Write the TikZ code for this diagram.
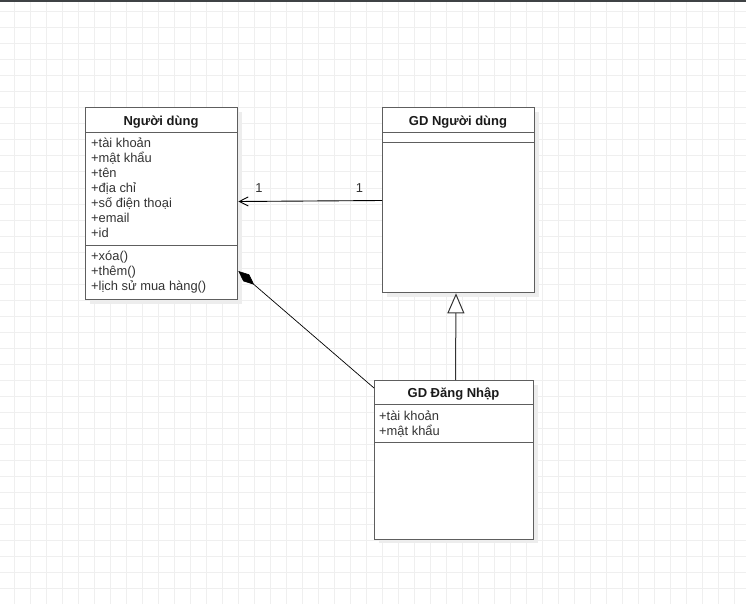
\documentclass[tikz,border=0pt]{standalone}
\usepackage{fontspec}
\setmainfont{Liberation Sans}
\usetikzlibrary{arrows.meta,calc,shadows}
\definecolor{gridc}{HTML}{EFEFEF}
\definecolor{shadowc}{HTML}{EDEDED}
\definecolor{boxc}{HTML}{5E5E5E}
\definecolor{textc}{HTML}{333333}
\definecolor{titlec}{HTML}{1A1A1A}
\definecolor{barc}{HTML}{3F4245}
\begin{document}
\begin{tikzpicture}[x=1pt,y=-1pt,
  classbox/.style={draw=boxc, line width=1.3pt, fill=white, rectangle,
    inner sep=0pt, anchor=north west,
    drop shadow={shadow xshift=4pt, shadow yshift=-4pt, fill=shadowc, opacity=1}},
  divider/.style={draw=boxc, line width=1.3pt},
  title/.style={anchor=base, inner sep=0pt, text=titlec,
    font=\fontsize{13}{15}\selectfont\bfseries},
  member/.style={anchor=base west, inner sep=0pt, text=textc,
    font=\fontsize{12.9}{15}\selectfont},
  mult/.style={anchor=base, inner sep=0pt, text=textc,
    font=\fontsize{12.9}{15}\selectfont},
  assoc/.style={draw=black, line width=0.9pt, -{Straight Barb[length=9pt,width=9pt]}},
  compo/.style={draw=black, line width=0.7pt, -{Diamond[length=21pt,width=9pt,fill=black]}},
  inherit/.style={draw=black!80, line width=1pt, -{Triangle[open,length=20pt,width=17pt,fill=white]}}
]
\useasboundingbox (0,0) rectangle (746,604);

% background grid and top bar
\fill[white] (0,0) rectangle (746,604);
\foreach \gx in {0,...,45} \draw[gridc, line width=1pt] (14+16*\gx,0) -- (14+16*\gx,604);
\foreach \gy in {0,...,37} \draw[gridc, line width=1pt] (0,12+16*\gy) -- (746,12+16*\gy);
\fill[barc] (0,0) rectangle (746,2);

% class: Người dùng
\node[classbox, minimum width=152pt, minimum height=192pt] (nd) at (85,107) {};
\draw[divider] (nd.west |- 0,132.5) -- (nd.east |- 0,132.5);
\draw[divider] (nd.west |- 0,245.5) -- (nd.east |- 0,245.5);
\node[title] (ndTitle) at (161,126) {Người dùng};
\node[member] (ndA1) at (91,147.5) {+tài khoản};
\node[member] (ndA2) at (91,162.5) {+mật khẩu};
\node[member] (ndA3) at (91,177.5) {+tên};
\node[member] (ndA4) at (91,192.5) {+địa chỉ};
\node[member] (ndA5) at (91,207.5) {+số điện thoại};
\node[member] (ndA6) at (91,222) {+email};
\node[member] (ndA7) at (91,237) {+id};
\node[member] (ndM1) at (91,260.5) {+xóa()};
\node[member] (ndM2) at (91,275.5) {+thêm()};
\node[member] (ndM3) at (91,290.5) {+lịch sử mua hàng()};

% class: GD Người dùng
\node[classbox, minimum width=152pt, minimum height=185pt] (gdnd) at (382,107) {};
\draw[divider] (gdnd.west |- 0,132.5) -- (gdnd.east |- 0,132.5);
\draw[divider] (gdnd.west |- 0,142.5) -- (gdnd.east |- 0,142.5);
\node[title] (gdndTitle) at (458,126) {GD Người dùng};

% class: GD Đăng Nhập
\node[classbox, minimum width=159pt, minimum height=158.5pt] (gddn) at (374,380) {};
\draw[divider] (gddn.west |- 0,404.5) -- (gddn.east |- 0,404.5);
\draw[divider] (gddn.west |- 0,442.5) -- (gddn.east |- 0,442.5);
\node[title] (gddnTitle) at (453.5,397.5) {GD Đăng Nhập};
\node[member] (gddnA1) at (379,420) {+tài khoản};
\node[member] (gddnA2) at (379,435.5) {+mật khẩu};

% association GD Người dùng -> Người dùng
\draw[assoc] (gdnd.west |- 0,200.5) -- (nd.east |- 0,201.5);
\node[mult] (multNd) at (259,192.5) {1};
\node[mult] (multGd) at (359.5,192.5) {1};

% composition GD Đăng Nhập -> Người dùng
\draw[compo] (gddn.west |- 0,388) -- (nd.east |- 0,271);

% generalization GD Đăng Nhập -> GD Người dùng
\draw[inherit] ($(gddn.north west)+(81.5,0)$) -- ($(gdnd.south west)+(74,0)$);
\end{tikzpicture}
\end{document}
